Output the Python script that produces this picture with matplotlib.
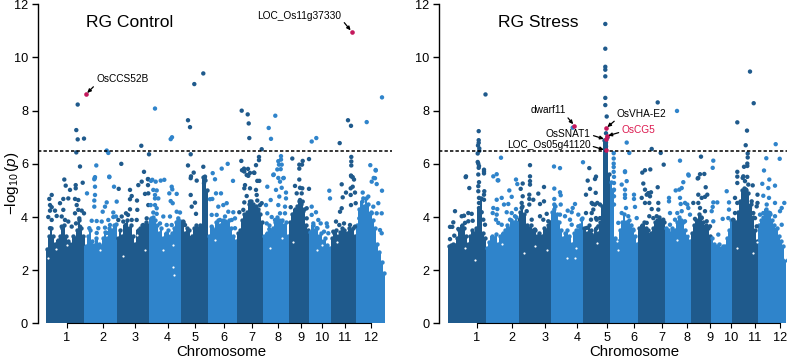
import numpy as np
import matplotlib
matplotlib.use("Agg")
import matplotlib.pyplot as plt

plt.rcParams['font.family'] = ['Liberation Sans', 'DejaVu Sans']
plt.rcParams['mathtext.fontset'] = 'custom'
plt.rcParams['mathtext.rm'] = 'Liberation Sans'
plt.rcParams['mathtext.it'] = 'Liberation Sans:italic'

DARK = '#1f5a8c'
LIGHT = '#2f84cb'
RED = '#c4185c'
W, H = 787, 358

chromosomes = ['1', '2', '3', '4', '5', '6', '7', '8', '9', '10', '11', '12']
threshold = 6.5

## genome position is expressed in the horizontal scale of the picture
ctrl_edges = [45.7, 84.5, 117, 149.5, 181.5, 208.3, 236.7, 263.3, 289, 309.3, 330.7, 356, 385]
ctrl_ticks = [67, 102.7, 135, 167.5, 195, 224, 251.7, 277.7, 300.7, 321.7, 345, 370.7]
stress_edges = [447.7, 486, 519, 551.3, 583.3, 610, 638.3, 665, 690.7, 711.3, 732.3, 758, 786.3]
stress_ticks = [476.7, 512.3, 544.7, 577, 606.7, 634, 661.7, 687.3, 710.3, 731.3, 755, 780]

## top of the solid mass along each chromosome
ctrl_tops = [
    [2.8, 3.3, 3.6, 3.3, 3.0, 3.15, 3.3, 3.6, 3.7, 3.3, 3.1, 3.0, 3.3, 3.2, 3.5, 3.9, 3.6, 3.3],
    [2.9, 3.3, 3.5, 3.1, 2.95, 3.2, 3.0, 2.9, 3.2, 3.45, 3.2, 3.6, 3.5, 3.7, 3.75],
    [3.2, 3.5, 3.3, 3.7, 3.9, 3.6, 3.7, 3.3, 3.0, 3.5, 3.6, 3.7, 3.65, 3.8, 3.7],
    [3.95, 4.0, 3.9, 3.7, 3.4, 3.6, 3.2, 3.4, 3.5, 3.3, 3.4, 3.6, 3.8, 3.9, 3.85],
    [3.8, 3.4, 3.6, 3.5, 3.3, 3.6, 3.7, 3.6, 3.7, 5.5, 5.4, 5.0],
    [3.3, 3.6, 3.5, 3.8, 3.9, 3.7, 3.9, 3.85, 3.8, 3.9, 3.6, 3.3, 3.1],
    [3.4, 3.5, 3.9, 4.1, 4.2, 4.5, 4.6, 4.5, 4.4, 4.3, 4.1, 3.8],
    [3.3, 3.4, 3.7, 3.5, 3.6, 3.8, 4.0, 3.9, 3.9, 3.7, 3.8, 3.3],
    [3.8, 4.1, 4.3, 4.4, 4.6, 4.5, 4.3, 3.7, 3.5],
    [3.45, 3.7, 3.5, 3.6, 3.3, 3.4, 3.1, 3.2, 2.95, 2.85],
    [3.2, 3.4, 3.5, 3.3, 3.45, 3.6, 3.5, 3.4, 3.6, 3.5, 3.6, 3.3],
    [3.7, 4.3, 4.6, 4.4, 4.7, 4.5, 4.2, 3.9, 3.6, 3.0, 2.7, 2.3, 1.9],
]
stress_tops = [
    [2.9, 2.95, 3.0, 2.95, 3.2, 3.5, 3.7, 3.6, 3.3, 3.0, 3.3, 3.5, 3.4, 3.6, 4.3, 4.7, 3.4, 3.2],
    [2.85, 3.05, 3.3, 3.2, 3.35, 3.0, 3.3, 3.4, 3.5, 3.7, 3.6, 3.9, 3.8, 4.0, 3.8],
    [4.2, 4.4, 4.1, 3.7, 3.6, 3.7, 3.5, 3.5, 3.3, 3.4, 3.3, 3.6, 3.5, 3.7, 3.8],
    [4.2, 4.4, 4.1, 3.8, 3.5, 3.2, 3.4, 3.5, 3.3, 3.0, 3.4, 3.5, 3.5, 3.7, 3.95],
    [3.6, 3.4, 3.7, 3.5, 3.3, 3.6, 3.4, 3.8, 4.4, 6.9, 7.0, 5.6],
    [5.3, 5.0, 3.2, 3.1, 3.5, 3.8, 4.1, 3.8, 3.9, 3.7, 3.5, 3.3, 3.0],
    [3.6, 3.7, 3.8, 3.6, 3.5, 3.4, 3.6, 3.8, 3.9, 4.0, 3.9, 3.8],
    [3.6, 3.5, 3.4, 3.6, 3.5, 3.8, 4.0, 3.9, 3.8, 3.5, 3.3, 3.1],
    [3.4, 3.7, 3.9, 4.1, 4.0, 3.8, 3.7, 3.6, 3.3],
    [3.2, 3.0, 2.9, 3.0, 2.85, 2.9, 2.9, 3.2, 3.5, 3.9],
    [3.9, 3.8, 4.2, 4.6, 5.0, 5.1, 5.0, 4.9, 4.5, 4.0, 3.5, 3.1],
    [3.7, 3.9, 4.0, 4.3, 4.2, 4.1, 3.9, 3.7, 3.6, 3.3, 3.1, 2.9, 2.4],
]

## small holes in the mass
ctrl_gaps = [
    (56, 2.79), (66.7, 2.95), (123.3, 2.53), (136.7, 3.33), (145, 2.76), (163.3, 2.76), (172.7, 2.95), (173.3, 2.13),
    (174, 1.82), (100, 2.76), (48.3, 2.45), (293.3, 3.07), (316.7, 2.76), (321.7, 2.95), (336.7, 3.07), (215, 3.14),
    (270, 2.82), (281.7, 3.2),
]
stress_gaps = [
    (501.7, 3.0), (465, 2.84), (475, 2.37), (524, 2.65), (535, 2.9), (546.7, 2.77), (576, 2.82), (566.7, 2.45),
    (575, 2.45), (616.7, 3.09), (618.3, 2.77), (596.7, 3.02), (753.3, 2.65), (756.7, 3.07), (785, 2.46), (736.7, 2.83),
    (686.7, 3.39), (676.7, 3.14),
]

## single SNPs standing above the mass: (position, -log10 p)
ctrl_snps = [
    (77.7, 8.23), (76.3, 7.27), (77.7, 6.92), (84, 6.95), (76.3, 6.43), (106.7, 6.5), (108.3, 6.41), (80, 5.9),
    (96.3, 5.94), (121.3, 6.0), (141.3, 6.68), (149, 6.36), (144, 5.7), (155, 8.08), (172, 7.0), (170.7, 6.93),
    (194.3, 9.0), (188, 7.64), (190, 7.38), (190.7, 6.36), (188, 5.94), (191, 5.53), (193.7, 5.67), (148, 5.43),
    (64.3, 5.41), (94.7, 5.46), (109.3, 5.5), (152.3, 5.4), (160.7, 5.37), (164.3, 5.4),
    (65.7, 5.18), (70, 5.02), (75.7, 5.2), (75.7, 5.08), (82.7, 5.29), (51.7, 4.83), (49.3, 4.68), (63.3, 4.68),
    (68.3, 4.7), (75, 4.68), (78.3, 4.64), (50, 4.45), (51.7, 4.37), (60, 4.52), (55, 4.24), (50, 4.24),
    (63.3, 4.27), (76.7, 4.45), (78.3, 4.27), (81.7, 4.24), (48.3, 4.0), (51.7, 3.89), (56.7, 4.04), (61.7, 4.02),
    (65, 3.89), (68.3, 3.83), (75, 4.14), (79.3, 3.95), (84, 4.14), (50, 3.58), (61.7, 3.64), (71.7, 3.64),
    (76, 3.76), (80, 3.64),
    (87, 4.89), (95, 5.14), (95, 4.83), (94.3, 4.62), (94.3, 4.39), (106.7, 4.55), (105, 4.39), (102.7, 4.2),
    (114, 5.14), (116.7, 4.58), (113.3, 4.17), (95, 5.5), (109.3, 5.52), (94.3, 5.42), (91.7, 3.86), (96.7, 3.85),
    (101.7, 3.83), (108.3, 3.89), (116, 4.02), (113.3, 4.0), (89.3, 3.58), (98.3, 3.58), (105, 3.6), (110, 3.7),
    (115, 3.64), (96.7, 3.4), (106.7, 3.4),
    (118.7, 5.06), (130, 5.02), (138.3, 5.2), (141.7, 5.33), (148, 5.42), (148, 5.2), (131.7, 4.79), (130, 4.67),
    (137, 4.62), (145, 4.87), (137.3, 4.27), (130, 4.29), (126, 4.14), (128, 4.08), (121.7, 4.02), (118.3, 3.89),
    (123.3, 3.83), (131.7, 3.89), (136.7, 3.89), (143.3, 3.7), (126, 3.7), (146.7, 3.95), (148.3, 4.45), (148.3, 4.89),
    (151, 5.36), (155.7, 5.33), (171.7, 5.14), (172.3, 5.04), (169.3, 4.89), (176.7, 4.87), (153.3, 5.02), (156.7, 5.0),
    (155, 4.83), (158.3, 4.7), (155, 4.7), (170.7, 4.6), (172.7, 4.52), (150.7, 4.45), (155, 4.45), (156.7, 4.33),
    (153.3, 4.17), (156.7, 4.12), (163.3, 4.02), (176.7, 4.2), (180, 4.17), (170, 4.02), (166.7, 3.7), (178.3, 3.95),
    (160, 3.76), (171.7, 3.7),
    (190.7, 5.46), (196.7, 5.37), (190.7, 4.83), (195, 4.54), (191.7, 4.39), (196, 4.12), (183.3, 3.83), (185, 3.7),
    (205, 5.52), (204, 5.27), (203.3, 5.89), (204.7, 5.47), (203.3, 9.4),
    (212.7, 5.65), (215, 5.42), (233, 5.36), (216, 4.89), (221, 4.89), (210, 4.67), (212.3, 4.68), (226.7, 4.52),
    (223.3, 4.45), (218.3, 4.39), (228.3, 4.2), (233.3, 4.18), (211.7, 4.08), (216.7, 4.08), (225, 4.02), (231.7, 3.89),
    (211.7, 3.64), (220, 3.89), (235, 3.58), (235, 3.95), (221.7, 5.82), (227.7, 6.0),
    (243.3, 5.75), (246.7, 5.58), (254, 5.67), (245, 5.2), (244.3, 5.08), (250, 5.08), (257.3, 5.36), (259.3, 5.36),
    (256, 5.02), (256.7, 4.83), (246.7, 4.79), (244.3, 4.55), (250, 4.58), (257.3, 4.62), (260, 4.45), (261.7, 4.52),
    (243.3, 4.27), (239.3, 4.18), (253.3, 4.33), (258.3, 4.2),
    (241.7, 8.0), (247.7, 7.86), (248.7, 7.52), (249.3, 6.97), (261.7, 6.55), (241.3, 6.11), (259, 6.26), (259, 6.14),
    (256, 5.95), (242, 5.76), (244, 5.82), (244.3, 5.71), (248, 5.81), (250, 5.66), (248.3, 5.55), (254.3, 5.66),
    (267.3, 5.14), (273.3, 5.58), (280, 5.33), (276, 5.02), (283.3, 5.46), (281.7, 5.1), (286, 4.92), (270.7, 4.64),
    (266, 4.45), (279.3, 4.77), (286, 4.7), (278.3, 4.45), (285, 4.39), (267.3, 4.14), (271.7, 4.0), (280, 4.14),
    (285, 4.14), (266.7, 3.76), (275, 3.89), (281.7, 3.83), (269.3, 3.54),
    (275.3, 7.81), (268.7, 7.35), (271, 6.94), (281, 6.29), (281, 6.16), (278.3, 6.1), (281.7, 5.97), (279, 5.97),
    (277.3, 5.79), (280.7, 5.8), (273.7, 5.6), (278.3, 5.47), (283.7, 5.47),
    (295, 5.17), (300, 5.1), (302.3, 5.08), (309, 5.06), (296.7, 4.89), (301.7, 4.89), (300, 4.64), (302.7, 4.58),
    (290.7, 4.37), (298.3, 4.33), (306.7, 4.33), (293.3, 4.08), (303.3, 4.2), (291.7, 3.76), (306.7, 3.95),
    (292.3, 6.2), (302.7, 6.11), (299.3, 5.97), (302, 5.97), (299.3, 5.82), (309, 6.18), (299.3, 5.41),
    (329.3, 4.99), (330, 4.7), (311.7, 4.39), (316, 4.18), (311.7, 4.08), (318.3, 3.89), (313.3, 3.76), (320.7, 3.76),
    (326.7, 3.76), (327.3, 3.64), (316.7, 3.58), (324, 3.45), (328.3, 3.39), (311.7, 6.84), (316.3, 6.97),
    (341.7, 5.23), (346, 4.92), (342.7, 4.74), (351, 5.56), (352.7, 5.5), (352.7, 5.14), (350.7, 5.08), (355, 4.92),
    (350.7, 4.83), (355.7, 4.52), (351, 4.45), (341.7, 4.33), (340, 4.2), (336, 3.83), (339.3, 3.7), (344, 3.76),
    (350, 3.7), (355, 3.64), (333.3, 3.45),
    (339.7, 6.78), (348, 7.64), (351, 7.43), (351.3, 6.26), (351.3, 6.09), (351.3, 5.94), (351.3, 5.53), (354, 5.41),
    (375.7, 5.75), (375, 5.46), (371.7, 5.33), (376.7, 5.24), (382, 4.99), (362.7, 4.92), (363.3, 4.7), (378.3, 4.52),
    (373.3, 4.39), (363.3, 4.33), (381.7, 4.14), (376.7, 4.14), (359.3, 3.95), (371.7, 4.14), (380, 3.51), (381.7, 3.39),
    (368.3, 4.77), (366.7, 7.57), (382, 8.5), (370.3, 5.95), (375.7, 5.77), (373.7, 5.47),
]
stress_snps = [
    (485.5, 8.61), (478.7, 7.23), (478.7, 6.89), (478.7, 6.79), (478, 6.69), (479.3, 6.58), (479.3, 6.49), (477.7, 6.39),
    (477.7, 6.07), (478.3, 6.01), (479, 5.92), (478.7, 5.85), (478.3, 5.6), (484, 5.78), (484, 5.71), (484, 5.64),
    (465.7, 5.5), (493.3, 5.53), (496.7, 5.61), (501, 6.23), (530, 5.95), (530, 5.53), (554, 5.9), (560, 5.84),
    (583, 6.06), (589.3, 5.84), (596, 5.52), (572.7, 7.36), (516, 5.41), (497.7, 5.38),
    (605.3, 11.26), (605.3, 10.33), (605.3, 9.65), (605.3, 9.54), (605.3, 9.29), (605.3, 8.48), (605.3, 8.21), (606.7, 7.78),
    (606, 7.15), (606, 6.8), (606, 6.66),
    (657.7, 8.31), (677, 7.99), (626.7, 6.8), (629.3, 6.41), (651.7, 6.56), (660.7, 6.41), (663.7, 5.97), (680, 6.12),
    (688.7, 5.56), (642.3, 5.67), (645, 5.76), (650.3, 5.79), (697.7, 5.45), (700, 5.61), (704.3, 5.62), (701, 6.27),
    (713.3, 6.12), (712.7, 5.85), (625, 5.69), (613.7, 6.4), (613.7, 6.2), (613.7, 6.01), (613.7, 5.88), (613.7, 5.7),
    (614, 5.51), (750, 9.47), (753.7, 8.28), (737.3, 7.56), (747, 7.25), (745.7, 6.7), (747.7, 6.39), (747.7, 6.24),
    (747.3, 6.01), (747.3, 5.92), (744, 5.89), (737.3, 5.7), (737.3, 5.52), (742.7, 5.47), (747.3, 5.51), (775.7, 6.74),
    (766.3, 6.21), (779.7, 6.19), (764, 5.75), (769.3, 5.41),
    (466, 5.53), (469.3, 5.09), (479, 5.31), (478.3, 5.16), (478.3, 4.97), (484.3, 4.97), (479, 4.72), (479, 4.53),
    (479, 4.34), (484, 4.84), (484, 4.65), (480, 4.18), (481.7, 4.18), (455, 4.22), (468.3, 4.15), (471.7, 4.12),
    (461.7, 4.03), (464, 4.05), (453.3, 3.8), (450, 3.63), (452.3, 3.63), (454.3, 3.3), (450, 3.17), (458.3, 3.55),
    (461.7, 3.5), (465, 3.78), (468.3, 3.84), (472.7, 3.86), (483.3, 3.9), (485, 3.71), (480, 3.9),
    (498.3, 5.38), (501.7, 4.72), (496.7, 4.65), (511.7, 4.76), (509.3, 5.0), (517.3, 5.24), (508.3, 4.49), (504, 4.47),
    (493.3, 4.34), (497.3, 4.3), (492.7, 4.15), (496.7, 4.09), (506.7, 4.18), (511.7, 4.15), (516, 4.3), (498.3, 3.78),
    (496, 3.9), (501.7, 3.71), (510, 3.9), (515, 4.03),
    (530, 5.35), (530, 5.22), (522.7, 5.26), (520.7, 5.06), (544, 5.13), (538.3, 4.88), (522.7, 4.78), (529.3, 4.84),
    (529.3, 4.68), (533.3, 4.65), (544, 4.59), (540, 4.49), (521.7, 4.53), (521.7, 4.34), (529.3, 4.47), (526.7, 4.22),
    (546.7, 4.12), (540, 4.03), (543.3, 3.9), (548.3, 3.84), (520, 3.9), (531.7, 3.9), (535, 3.53),
    (554.3, 5.07), (560, 4.93), (560.7, 4.82), (554.3, 4.68), (554.3, 4.47), (560.7, 4.47), (554.3, 4.28), (567.7, 4.24),
    (575, 4.49), (572.7, 4.34), (571.7, 4.18), (578.3, 4.09), (565, 4.03), (570, 3.9), (560, 4.09), (581.7, 3.9),
    (571.7, 3.71), (578.3, 3.65), (556.7, 3.84),
    (587.7, 5.37), (590, 5.06), (595, 5.43), (586, 4.84), (591.7, 4.53), (595, 4.47), (591.7, 4.15), (586, 4.15),
    (596.7, 3.9), (586.7, 3.59), (595.7, 4.91), (597.3, 4.53), (592.7, 4.49), (593.3, 4.28), (600, 4.47), (596, 3.96),
    (600, 3.96), (591, 3.9), (591.7, 3.34), (598.3, 3.65),
    (614, 5.28), (614, 5.03), (614, 4.78), (614, 4.47), (625, 5.72), (626.7, 5.35), (621.7, 5.22), (625, 5.03),
    (625, 4.84), (625, 4.72), (634, 4.84), (634, 4.68), (626, 4.34), (635, 4.38), (621.7, 4.15), (636.7, 3.96),
    (628.3, 4.03), (633.3, 3.53), (618.3, 3.78),
    (643.3, 5.26), (657.7, 5.12), (645, 5.03), (651, 4.93), (648.3, 4.9), (646.7, 4.84), (641.7, 4.72), (650, 4.78),
    (645, 4.53), (649.3, 4.53), (651.7, 4.3), (649.3, 4.03), (658.3, 4.53), (658.3, 4.28), (663.3, 3.9), (653.3, 3.96),
    (646.7, 3.78), (656.7, 4.03),
    (683.3, 5.31), (681.7, 5.09), (675.7, 5.0), (679.3, 5.03), (669, 4.72), (669, 4.59), (680, 4.72), (680.7, 4.49),
    (687.3, 4.47), (685, 4.53), (670, 4.15), (677.3, 4.15), (681.7, 4.22), (688.3, 4.34), (690, 4.09), (675, 3.9),
    (685, 3.84), (670, 3.71), (688.3, 5.6),
    (698.3, 5.47), (705.7, 5.12), (698.3, 4.84), (707.3, 4.84), (705, 4.76), (701.7, 4.72), (693.3, 4.53), (698.3, 4.53),
    (700, 4.34), (705, 4.22), (695, 3.93), (701.7, 3.96), (706.7, 3.84), (710, 3.65),
    (713.3, 4.55), (717.3, 4.55), (712.7, 4.38), (711.7, 4.22), (726.7, 4.97), (729, 4.55), (729, 4.28), (722.7, 3.93),
    (713.3, 3.84), (718.3, 3.34), (728.3, 3.96),
    (737.3, 5.28), (743.3, 5.53), (745, 5.35), (752.7, 5.19), (748.3, 5.22), (746, 5.03), (757.5, 4.84), (735, 4.72),
    (737.3, 4.53), (751.7, 4.59), (757.5, 4.53), (756.7, 4.4), (735, 4.15), (750, 4.34), (753.3, 4.15), (755, 3.96),
    (733.3, 3.9), (756.7, 3.65),
    (762.3, 5.25), (775, 5.18), (768.3, 5.09), (784.3, 4.53), (781.7, 4.34), (763.3, 4.8), (769, 4.72), (775, 4.53),
    (766.7, 4.47), (763.3, 4.15), (780, 4.22), (770, 4.15), (775, 4.03), (760, 4.09), (781.7, 3.71), (768.3, 3.78),
]

## highlighted genes: name, position, value, label centre, arrow start on the label, text colour
ctrl_genes = [
    ('OsCCS52B', 86, 8.62, (122.3, 9.19), (0, 0), 'k'),
    ('LOC_Os11g37330', 351.7, 10.97, (299.5, 11.55), (1, 0.2), 'k'),
]
stress_genes = [
    ('dwarf11', 574.3, 7.44, (548, 8.02), (1, 0), 'k'),
    ('OsVHA-E2', 606, 7.34, (641.8, 7.88), (0, 0), 'k'),
    ('OsCG5', 606.5, 7.04, (638.3, 7.28), (0, 0.3), '#dc1a50'),
    ('OsSNAT1', 605.5, 6.92, (568.3, 7.13), (1, 0.4), 'k'),
    ('LOC_Os05g41120', 605.5, 6.51, (548.7, 6.72), (1, 0.4), 'k'),
]


def draw_panel(ax, edges, ticks, tops, snps, gaps, genes, title, title_x, xlim):
    for i, heights in enumerate(tops):
        colour = DARK if i % 2 == 0 else LIGHT
        n = len(heights)
        step = (edges[i + 1] - edges[i]) / n
        x = edges[i] + step * (np.arange(n) + 0.5)
        ax.bar(x, heights, width=step + 0.1, color=colour, linewidth=0, zorder=2)
        ax.scatter(x, heights, s=10, color=colour, linewidths=0, zorder=2)

    ax.scatter([g[0] for g in gaps], [g[1] for g in gaps], s=2.5, color='white', linewidths=0, zorder=2.5)

    snp_x = np.array([p[0] for p in snps])
    snp_y = np.array([p[1] for p in snps])
    chrom = np.searchsorted(edges, snp_x) - 1
    colours = [DARK if c % 2 == 0 else LIGHT for c in chrom]
    ax.scatter(snp_x, snp_y, s=10, c=colours, linewidths=0, zorder=3, clip_on=False)

    ax.axhline(threshold, color='k', lw=1.1, dashes=(2.2, 1.4), zorder=4)

    for name, x, y, label_pos, rel, text_colour in genes:
        ax.scatter([x], [y], s=11, color=RED, linewidths=0, zorder=5)
        ax.annotate(name, xy=(x, y), xytext=label_pos, fontsize=7.3, color=text_colour,
                    ha='center', va='center', zorder=6,
                    arrowprops=dict(arrowstyle='-|>,head_width=0.14,head_length=0.3', color='k',
                                    lw=0.9, shrinkA=0, shrinkB=1.2, relpos=rel))

    ax.set_xlim(*xlim)
    ax.set_ylim(0, 12)
    ax.set_yticks([0, 2, 4, 6, 8, 10, 12])
    ax.set_xticks(ticks)
    ax.set_xticklabels(chromosomes)
    ax.tick_params(axis='y', labelsize=9.2, length=4.3, width=1.0, pad=2.5)
    ax.tick_params(axis='x', labelsize=9.2, length=3.6, width=0.8, pad=2.5)
    ax.spines['top'].set_visible(False)
    ax.spines['right'].set_visible(False)
    ax.spines['left'].set_linewidth(1.0)
    ax.spines['bottom'].set_linewidth(0.8)
    ax.spines['bottom'].set_bounds(ticks[0], ticks[-1])
    ax.text(title_x, 11.3, title, fontsize=12.6, ha='center', va='center')


fig = plt.figure(figsize=(W / 100, H / 100), dpi=100)
bottom = (H - 323.4) / H
height = 319.1 / H
ax1 = fig.add_axes([37.5 / W, bottom, (392 - 37.5) / W, height])
ax2 = fig.add_axes([439 / W, bottom, (787 - 439) / W, height])

draw_panel(ax1, ctrl_edges, ctrl_ticks, ctrl_tops, ctrl_snps, ctrl_gaps, ctrl_genes, 'RG Control', 130, (37.5, 392))
draw_panel(ax2, stress_edges, stress_ticks, stress_tops, stress_snps, stress_gaps, stress_genes, 'RG Stress', 538, (439, 787))

fig.text(221.7 / W, (H - 356.5) / H, 'Chromosome', fontsize=10.8, ha='center', va='baseline')
fig.text(634 / W, (H - 356.5) / H, 'Chromosome', fontsize=10.8, ha='center', va='baseline')
fig.text(12 / W, (H - 183) / H, r'$-\log_{10}(\mathit{p})$', fontsize=11, rotation=90, ha='center', va='center')

fig.savefig('out.png', dpi=100)
